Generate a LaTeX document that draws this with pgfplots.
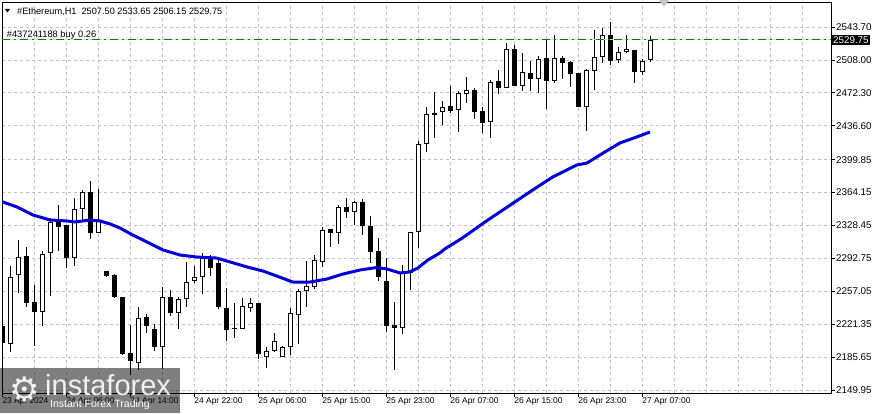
\documentclass[border=0pt]{standalone}
\usepackage{pgfplots}
\pgfplotsset{compat=1.18}
\usepackage{pgfplotstable}
\usepackage{fontspec}
\setmainfont{Liberation Sans}
\newfontfamily\dejavu{DejaVu Sans}
\definecolor{gridc}{RGB}{192,192,192}
\definecolor{mablue}{RGB}{0,0,215}
\definecolor{ordgreen}{RGB}{0,128,0}

% bullish (hollow) candles: index, open, high, low, close
\pgfplotstableread{
k o h l c
1 2199.9 2284.5 2191.2 2272.5
2 2274.7 2312.7 2255.2 2294.2
5 2234.6 2300.7 2219.4 2297.5
6 2298.6 2336.5 2251.9 2332.2
9 2293.1 2358.2 2284.5 2346.3
10 2346.3 2366.9 2334.4 2364.7
12 2320.3 2368.0 2320.3 2334.4
17 2179.3 2240.0 2171.7 2228.1
20 2196.6 2261.7 2172.7 2250.8
22 2233.5 2250.8 2216.1 2248.7
23 2248.7 2288.8 2240.0 2267.1
24 2268.2 2284.5 2266.0 2272.5
25 2272.5 2298.6 2254.1 2294.2
30 2216.1 2249.8 2216.1 2241.1
31 2238.9 2249.8 2234.6 2244.3
33 2185.8 2196.6 2173.8 2192.3
34 2192.3 2211.8 2191.2 2203.1
35 2185.8 2197.7 2185.8 2196.6
36 2196.6 2238.9 2187.9 2233.5
37 2231.3 2259.5 2199.9 2257.4
38 2257.4 2289.9 2240.0 2262.8
39 2261.7 2296.4 2259.5 2291.0
40 2288.8 2326.8 2283.4 2323.5
42 2320.3 2350.6 2308.3 2348.5
44 2343.0 2355.0 2328.9 2353.9
50 2217.2 2285.6 2210.7 2276.9
51 2276.9 2321.4 2258.4 2321.4
52 2321.4 2420.1 2304.0 2416.8
53 2416.8 2456.9 2408.1 2449.3
55 2451.5 2463.4 2437.4 2456.9
57 2453.7 2474.3 2429.8 2472.1
58 2471.0 2489.5 2461.3 2475.4
61 2440.7 2486.2 2423.3 2484.1
63 2477.5 2526.4 2477.5 2519.9
65 2479.7 2515.5 2474.3 2494.9
67 2487.3 2512.3 2472.1 2509.0
69 2485.1 2535.0 2483.0 2510.1
73 2456.9 2498.2 2430.9 2497.1
74 2496.0 2540.5 2475.4 2511.2
75 2511.2 2542.6 2504.7 2535.0
77 2507.9 2522.0 2504.7 2516.6
78 2516.6 2535.0 2515.5 2519.9
80 2494.9 2509.0 2491.6 2506.8
81 2507.50 2533.65 2506.15 2529.75
}\bull

% bearish (filled) candles
\pgfplotstableread{
k o h l c
0 2219.4 2225.9 2182.5 2201.0
3 2295.3 2305.1 2240.0 2244.3
4 2245.4 2263.9 2197.7 2234.6
7 2332.2 2350.6 2300.7 2326.8
8 2328.9 2328.9 2282.3 2293.1
11 2364.7 2376.7 2313.8 2320.3
13 2279.0 2279.0 2272.5 2273.6
14 2274.7 2275.8 2249.8 2250.8
15 2250.8 2250.8 2187.9 2189.0
16 2190.1 2220.5 2166.2 2181.4
18 2229.2 2232.4 2211.8 2219.4
19 2216.1 2221.6 2192.3 2196.6
21 2250.8 2258.4 2230.2 2233.5
26 2294.2 2296.4 2273.6 2282.3
27 2287.7 2293.1 2237.8 2240.0
28 2238.9 2260.6 2203.1 2215.1
29 2217.2 2244.3 2206.4 2216.1
32 2244.3 2244.3 2183.6 2189.0
41 2324.6 2324.6 2305.1 2320.3
43 2348.5 2358.2 2336.5 2343.0
45 2353.9 2357.1 2318.1 2327.9
46 2327.9 2338.7 2287.7 2299.7
47 2300.7 2314.8 2268.2 2272.5
48 2268.2 2293.1 2212.9 2219.4
49 2220.5 2245.4 2171.7 2217.2
54 2450.4 2473.2 2423.3 2448.3
56 2458.0 2479.7 2450.4 2452.6
59 2475.4 2477.5 2443.9 2451.5
60 2452.6 2456.9 2428.7 2439.6
62 2485.1 2497.1 2471.0 2477.5
64 2519.9 2524.2 2479.7 2479.7
66 2493.8 2506.8 2474.3 2487.3
68 2510.1 2530.7 2454.8 2485.1
70 2510.1 2512.3 2487.3 2504.7
71 2505.7 2506.8 2478.6 2492.7
72 2493.8 2493.8 2456.9 2456.9
76 2535.0 2549.1 2502.5 2506.8
79 2518.8 2518.8 2483.0 2494.9
}\bear

% moving average
\pgfplotstableread{
k v
-0.3 2355.0
1.84 2348.5
3.84 2339.8
5.96 2334.4
8.09 2333.3
9.09 2332.2
10.96 2334.4
12.2 2333.3
13.5 2330.0
14.7 2325.7
16.3 2318.1
18.1 2310.5
20.1 2301.8
22.2 2296.4
24.3 2294.2
26.8 2293.1
28.5 2288.8
30.6 2283.4
32.6 2279.0
34.3 2273.6
36.3 2267.1
38.5 2267.1
40.6 2270.4
42.6 2275.8
44.7 2280.1
46.8 2282.8
48.1 2281.2
49.7 2276.9
50.9 2278.0
51.96 2282.3
53.2 2291.0
54.7 2298.6
55.3 2302.9
57.5 2314.8
59.1 2324.6
60.7 2334.4
63.5 2350.6
66.3 2366.9
68.8 2381.0
71.8 2394.0
73.1 2396.2
75.1 2407.0
77.2 2417.9
79.3 2424.4
80.96 2429.8
}\ma

\begin{document}
\begin{tikzpicture}[x=1pt,y=1pt]
\begin{axis}[
  scale only axis, width=829pt, height=390.5pt,
  xmin=-0.0375, xmax=103.59,
  ymin=2146.7, ymax=2570.3,
  axis line style={line width=1pt, black},
  every tick/.style={black, line width=0.8pt},
  tick align=outside,
  xtick pos=bottom, ytick pos=right,
  yticklabel pos=right,
  major tick length=3.5pt,
  minor tick length=0pt,
  xtick={0,8,...,80},
  xticklabels={23 Apr 2024,24 Apr 06:00,24 Apr 14:00,24 Apr 22:00,25 Apr 06:00,25 Apr 15:00,25 Apr 23:00,26 Apr 07:00,26 Apr 15:00,26 Apr 23:00,27 Apr 07:00},
  minor xtick={4,12,...,100,88,96},
  ytick={2149.95,2185.65,2221.35,2257.05,2292.75,2328.45,2364.15,2399.85,2436.60,2472.30,2508.00,2543.70},
  yticklabels={2149.95,2185.65,2221.35,2257.05,2292.75,2328.45,2364.15,2399.85,2436.60,2472.30,2508.00,2543.70},
  xmajorgrids, xminorgrids, ymajorgrids,
  major grid style={gridc, dash pattern=on 3pt off 3pt, line width=0.8pt},
  minor grid style={gridc, dash pattern=on 3pt off 3pt, line width=0.8pt},
  xticklabel style={font=\fontsize{8.4}{9}\selectfont, anchor=north west, inner xsep=0pt, inner ysep=1pt},
  yticklabel style={font=\fontsize{9.8}{11}\selectfont, anchor=west, inner sep=0pt, xshift=1.5pt},
]
% wicks
\addplot[black, line width=1pt, quiver={u=0, v=\thisrow{h}-\thisrow{l}}] table[x=k, y=l] {\bull};
\addplot[black, line width=1pt, quiver={u=0, v=\thisrow{h}-\thisrow{l}}] table[x=k, y=l] {\bear};
% bodies
\addplot[black, line width=5pt, quiver={u=0, v=\thisrow{c}-\thisrow{o}}] table[x=k, y=o] {\bear};
\addplot[black, line width=5pt, quiver={u=0, v=\thisrow{c}-\thisrow{o}}] table[x=k, y=o] {\bull};
\addplot[white, line width=3pt, shorten <=1pt, shorten >=1pt, quiver={u=0, v=\thisrow{c}-\thisrow{o}}] table[x=k, y=o] {\bull};
% moving average
\addplot[mablue, line width=3pt, line join=round] table[x=k, y=v] {\ma};
% bid line and order line
\addplot[gray!30, line width=0.8pt] coordinates {(-1,2529.75) (110,2529.75)};
\addplot[ordgreen, line width=1.1pt, dash pattern=on 8pt off 4pt on 2pt off 4pt] coordinates {(-0.0375,2529.75) (103.59,2529.75)};
\coordinate (SW) at (rel axis cs:0,0);
\coordinate (bidR) at (axis cs:103.59,2529.75);
\coordinate (bidL) at (axis cs:-0.0375,2529.75);
\end{axis}
% price label box
\node[anchor=west, fill=black, text=white, inner xsep=1.5pt, inner ysep=1.2pt, font=\fontsize{9.8}{11}\selectfont] at ([xshift=0.5pt]bidR) {2529.75};
% order label
\node[anchor=base west, inner sep=0pt, font=\fontsize{9.3}{11}\selectfont] at ([xshift=4.7pt, yshift=2.6pt]bidL) {\#437241188 buy 0.26};
\begin{scope}[shift={(SW)}]
% header
\fill[black] (3,384) -- (8,384) -- (5.5,380.5) -- cycle;
\node[anchor=base west, inner sep=0pt, font=\fontsize{9.2}{11}\selectfont] at (15,378) {\#Ethereum,H1\ \ 2507.50 2533.65 2506.15 2529.75};
% shift marker
\fill[gray!45] (657,393) -- (667,393) -- (662,386) -- cycle;
% logo watermark
\fill[black, fill opacity=0.5] (-2,-20) rectangle (178,25);
\node[anchor=base west, inner sep=0pt, text=white!88!gray, font=\fontsize{29}{30}\selectfont] at (43,-2) {instaforex};
\node[anchor=base west, inner sep=0pt, text=white, font=\fontsize{10.5}{12}\selectfont] at (48,-14) {Instant Forex Trading};
\node[inner sep=0pt, text=white!88!gray, font=\dejavu\fontsize{34}{34}\selectfont] at (23,4) {⚙};
\pgfresetboundingbox
\path[use as bounding box] (-2,-20) rectangle (874,393);
\end{scope}
\end{tikzpicture}
\end{document}
